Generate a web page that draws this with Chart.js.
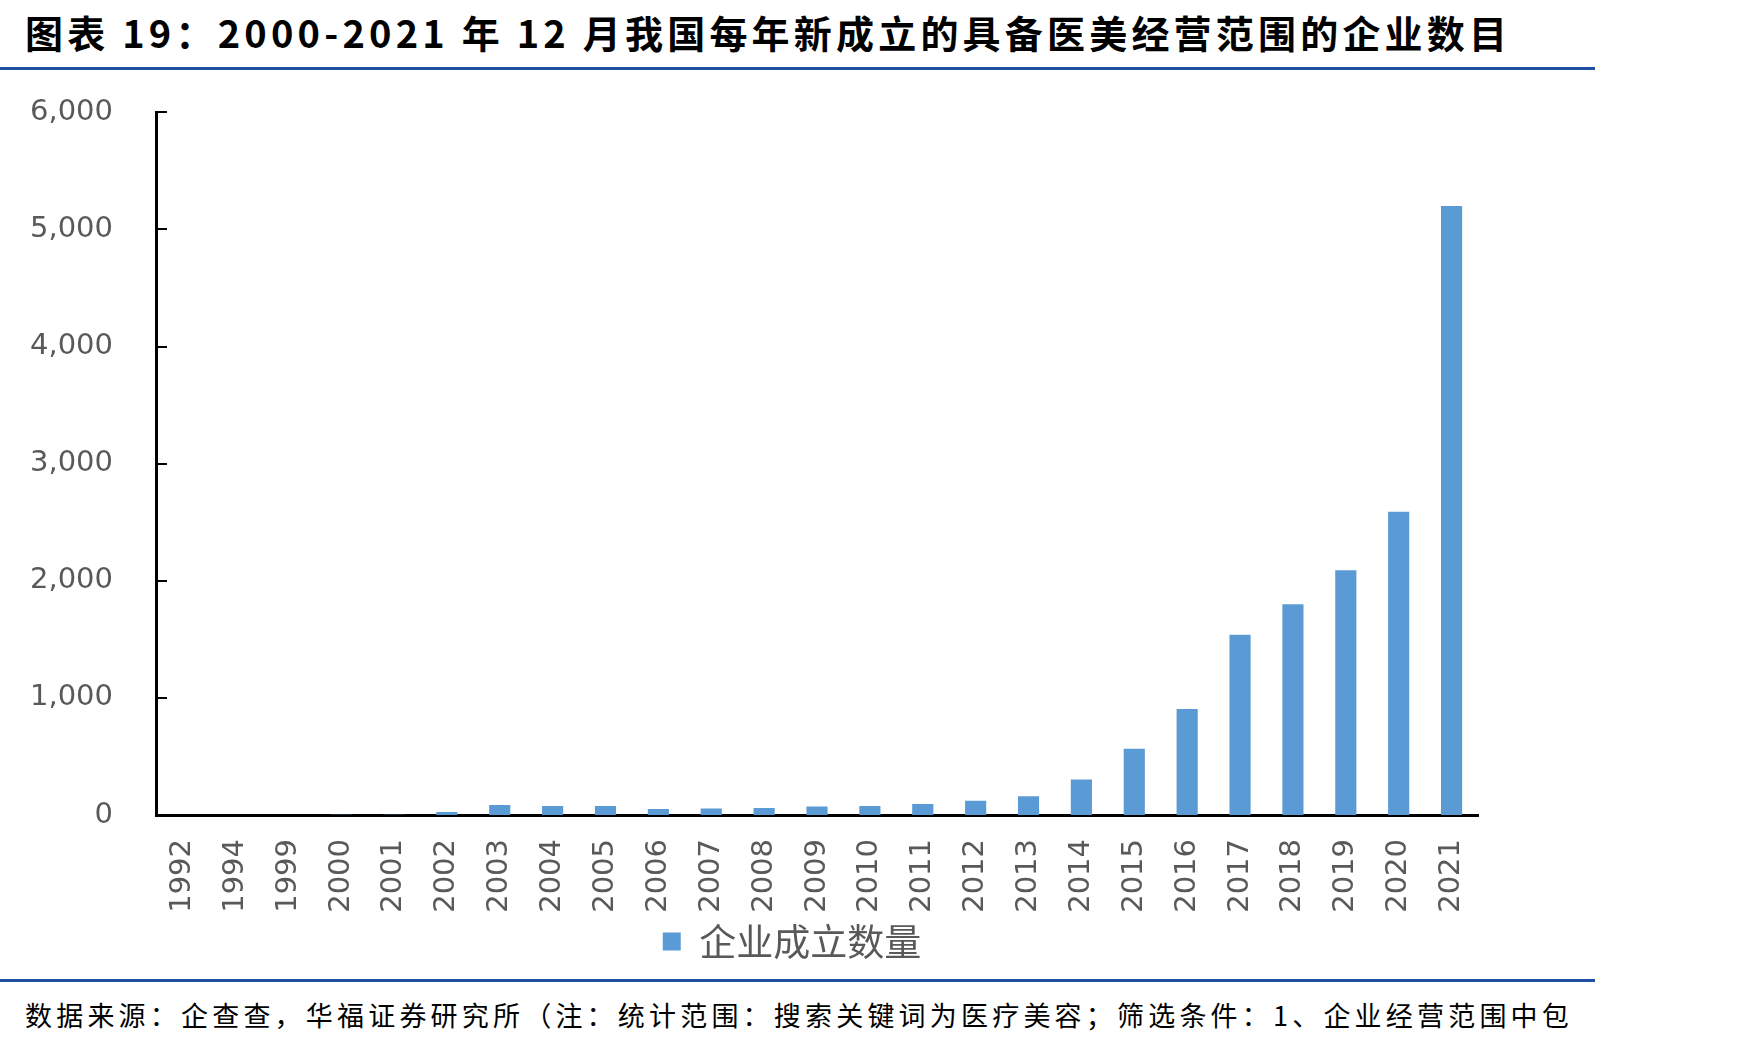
<!DOCTYPE html>
<html>
<head>
<meta charset="utf-8">
<script src="https://cdn.jsdelivr.net/npm/chart.js@4/dist/chart.umd.min.js"></script>
<style>
    body { margin: 0; background: #fff; width: 1749px; height: 1045px; position: relative; overflow: hidden; }
    #title { position: absolute; left: 25px; top: 4px; font-family: "Noto Sans CJK SC"; font-weight: 700; font-size: 38px; letter-spacing: 4.2px; color: #000; white-space: nowrap; }
    .rule { position: absolute; left: 0; width: 1595px; height: 3px; background: #1E50A2; }
    #chartWrap { position: absolute; left: 0; top: 52px; width: 1600px; height: 918px; }
    #footer { position: absolute; left: 25px; top: 995px; font-family: "Noto Sans CJK SC"; font-size: 27px; letter-spacing: 4.2px; color: #000; white-space: nowrap; }
</style>
</head>
<body>
<div id="title">图表 19：2000-2021 年 12 月我国每年新成立的具备医美经营范围的企业数目</div>
<div class="rule" style="top:67px"></div>
<div id="chartWrap"><canvas id="companyChart" width="1600" height="918"></canvas></div>
<div class="rule" style="top:979px"></div>
<div id="footer">数据来源：企查查，华福证券研究所（注：统计范围：搜索关键词为医疗美容；筛选条件：1、企业经营范围中包</div>

<script>
const years = ['1992', '1994', '1999', '2000', '2001', '2002', '2003', '2004', '2005', '2006', '2007',
    '2008', '2009', '2010', '2011', '2012', '2013', '2014', '2015', '2016', '2017', '2018', '2019', '2020', '2021'];
const newCompanies = [1, 1, 1, 2, 3, 25, 85, 76, 76, 52, 55,
    60, 72, 76, 93, 121, 161, 304, 566, 905, 1540, 1800, 2090, 2590, 5200];
const yTicks = [0, 1000, 2000, 3000, 4000, 5000, 6000];
const seriesName = '企业成立数量';

const textGrey = '#595959';

// Excel style ticks pointing into the plot area
const innerTicks = {
    id: 'innerTicks',
    afterDraw: (chart) => {
        const y = chart.scales.y;
        const ctx = chart.ctx;
        ctx.save();
        ctx.strokeStyle = '#000';
        ctx.lineWidth = 2;
        yTicks.forEach(v => {
            const py = Math.round(y.getPixelForValue(v));
            ctx.beginPath();
            ctx.moveTo(y.right, py);
            ctx.lineTo(y.right + 11, py);
            ctx.stroke();
        });
        ctx.restore();
    }
};

document.addEventListener('DOMContentLoaded', () => {
    const canvas = document.getElementById('companyChart');
    const ctx = canvas.getContext('2d');
    new Chart(ctx, {
        type: 'bar',
        data: {
            labels: years,
            datasets: [{
                label: seriesName,
                data: newCompanies,
                backgroundColor: '#5B9BD5',
                borderWidth: 0,
                barPercentage: 0.4,
                categoryPercentage: 1.0
            }]
        },
        options: {
            responsive: false,
            maintainAspectRatio: false,
            animation: false,
            layout: { padding: { left: 6, right: 22, top: 31, bottom: 0 } },
            plugins: {
                tooltip: { enabled: false },
                legend: {
                    position: 'bottom',
                    labels: {
                        boxWidth: 18,
                        boxHeight: 18,
                        padding: 10,
                        color: textGrey,
                        font: { family: '"Noto Sans CJK SC"', size: 37 }
                    }
                }
            },
            scales: {
                x: {
                    grid: { display: false, drawTicks: false },
                    border: { color: '#000', width: 3 },
                    ticks: {
                        color: textGrey,
                        font: { family: '"DejaVu Sans"', size: 29 },
                        minRotation: 90,
                        maxRotation: 90,
                        padding: 24,
                        autoSkip: false
                    },
                    afterFit: (scale) => { scale.height = 98; }
                },
                y: {
                    min: 0,
                    max: 6000,
                    afterBuildTicks: (scale) => { scale.ticks = yTicks.map(v => ({ value: v })); },
                    grid: { display: false, drawTicks: false },
                    border: { color: '#000', width: 3 },
                    ticks: {
                        color: textGrey,
                        font: { family: '"DejaVu Sans"', size: 29 },
                        padding: 43,
                        callback: (v) => v.toLocaleString('en-US')
                    },
                    afterFit: (scale) => { scale.width = 150; }
                },
                // empty right-hand space so the legend centres like the original
                rightSpace: {
                    type: 'linear',
                    position: 'right',
                    grid: { display: false, drawTicks: false },
                    border: { display: false },
                    ticks: { display: false },
                    afterFit: (scale) => { scale.width = 100; }
                }
            }
        },
        plugins: [innerTicks]
    });
});
</script>
</body>
</html>
